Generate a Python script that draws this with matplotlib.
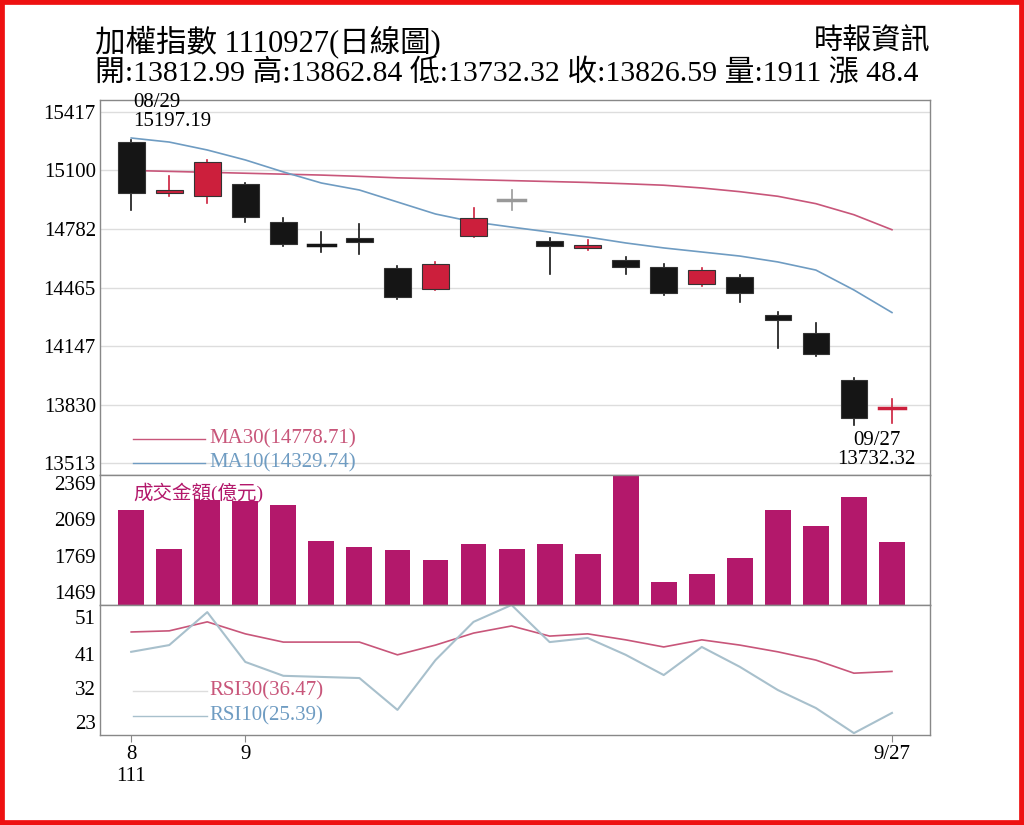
import matplotlib
matplotlib.use("Agg")
import matplotlib.pyplot as plt
from matplotlib.patches import Rectangle
import numpy as np

plt.rcParams['font.family'] = ['Liberation Serif', 'Noto Sans CJK TC', 'DejaVu Sans']

opens  = [15254,14978,14961,15027,14820,14696,14734,14571,14457,14745,14940,14717,14679,14614,14576,14484,14522,14316,14219,13964,13812.99]
closes = [14978,14994,15146,14848,14701,14690,14712,14414,14593,14842,14945,14690,14696,14576,14435,14560,14435,14289,14105,13760,13826.59]
highs  = [15265,15070,15157,15032,14842,14766,14810,14582,14604,14896,14994,14734,14723,14631,14593,14571,14533,14332,14273,13975,13862.84]
lows   = [14886,14961,14923,14820,14690,14658,14647,14403,14452,14740,14886,14538,14669,14538,14425,14473,14387,14137,14094,13720,13732.32]
ma30 = [15100,15095,15090,15085,15080,15075,15068,15060,15055,15050,15045,15040,15035,15028,15020,15005,14985,14960,14920,14860,14778.71]
ma10 = [15276,15254,15211,15157,15092,15032,14994,14929,14864,14821,14793,14766,14739,14707,14680,14658,14636,14604,14560,14452,14329.74]
volume = [2142,1822,2226,2220,2184,1890,1839,1814,1730,1864,1822,1864,1780,2428,1553,1620,1747,2142,2016,2251,1881]
rsi30 = [47.0,47.3,49.7,46.5,44.3,44.3,44.3,40.9,43.5,46.7,48.6,45.9,46.5,44.9,43.0,44.9,43.5,41.7,39.5,36.0,36.47]
rsi10 = [41.7,43.5,52.3,39.0,35.3,35.0,34.7,26.2,39.5,49.7,54.2,44.3,45.4,40.9,35.5,43.0,37.7,31.5,26.7,20.0,25.39]
price_ticks = [13513,13830,14147,14465,14782,15100,15417]
vol_ticks = [1469,1769,2069,2369]
rsi_ticks = [23,32,41,51]
xtick_pos = [0,3,20]
xtick_labels = ["8\n111","9","9/27"]

RED = '#cc1f3c'; BLK = '#151515'; MA30C = '#c8567a'; MA10C = '#6f9cc2'
VOLC = '#b3186b'; R10C = '#a8c0cc'

fig = plt.figure(figsize=(10.24, 8.25), dpi=100)
fig.patches.append(Rectangle((0, 0), 1, 1, transform=fig.transFigure, fill=False,
                             edgecolor='#ee1111', linewidth=7))
L, W = 100/1024, 830/1024
ax1 = fig.add_axes([L, 1-475/825, W, 375/825])
ax2 = fig.add_axes([L, 1-605/825, W, 130/825])
ax3 = fig.add_axes([L, 1-735/825, W, 130/825])
x = np.arange(len(opens))
for ax in (ax1, ax2, ax3):
    ax.set_xlim(-0.82, 21.0)
    for s in ax.spines.values():
        s.set_color('#888888'); s.set_linewidth(1)
    ax.tick_params(axis='y', labelsize=15, length=0, pad=3)
    ax.tick_params(axis='x', length=0)
    ax.set_xticks([])

# main
ax1.set_ylim(13449, 15482)
ax1.set_yticks(price_ticks)
for t in price_ticks:
    ax1.axhline(t, color='#dddddd', lw=1, zorder=0)
for i in x:
    o, c, h, l = opens[i], closes[i], highs[i], lows[i]
    col = RED if c > o else BLK
    if i in (10,):
        col = '#999999'
    ax1.plot([i, i], [l, h], color=col, lw=1.2, zorder=2)
    hgt = abs(c-o)
    if hgt < 15:
        ax1.plot([i-0.35, i+0.35], [o, o], color=col, lw=2.5, zorder=3)
    else:
        ax1.add_patch(Rectangle((i-0.35, min(o, c)), 0.7, hgt, facecolor=col,
                                edgecolor='#333333', lw=0.8, zorder=3))
ax1.plot(x, ma30, color=MA30C, lw=1.2, zorder=1)
ax1.plot(x, ma10, color=MA10C, lw=1.2, zorder=1)
ax1.text(0.05, 15520, "08/29\n15197.19", fontsize=15, va='top', ha='left',
         linespacing=1.0, clip_on=False)
ax1.text(19.6, 13690, "09/27\n13732.32", fontsize=15, va='top', ha='center',
         linespacing=1.0, clip_on=False, zorder=5)
ax1.plot([0.05, 1.95], [13645, 13645], color=MA30C, lw=1)
ax1.text(2.05, 13645, "MA30(14778.71)", color=MA30C, fontsize=15, va='center')
ax1.plot([0.05, 1.95], [13515, 13515], color=MA10C, lw=1)
ax1.text(2.05, 13515, "MA10(14329.74)", color=MA10C, fontsize=15, va='center')

# volume
ax2.set_ylim(1360, 2435)
ax2.set_yticks(vol_ticks)
ax2.bar(x, volume, width=0.68, color=VOLC, bottom=0)
ax2.text(0.05, 2290, "成交金額(億元)", color=VOLC, fontsize=14, va='center')

# rsi
ax3.set_ylim(19.5, 54.2)
ax3.set_yticks(rsi_ticks)
ax3.plot(x, rsi30, color=MA30C, lw=1.2)
ax3.plot(x, rsi10, color=R10C, lw=1.5)
ax3.plot([0.05, 2.0], [31.3, 31.3], color='#dddddd', lw=1)
ax3.text(2.05, 31.3, "RSI30(36.47)", color=MA30C, fontsize=15, va='center')
ax3.plot([0.05, 2.0], [24.6, 24.6], color=R10C, lw=1)
ax3.text(2.05, 24.6, "RSI10(25.39)", color=MA10C, fontsize=15, va='center')
ax3.set_xticks(xtick_pos)
ax3.set_xticklabels(xtick_labels, fontsize=15, linespacing=1.2)
ax3.tick_params(axis='x', length=5, color='#888888', pad=2)

fig.text(95/1024, 1-42/825, "加權指數 1110927(日線圖)", fontsize=22, va='center', ha='left')
fig.text(930/1024, 1-42/825, "時報資訊", fontsize=21, va='center', ha='right')
fig.text(95/1024, 1-73/825, "開:13812.99 高:13862.84 低:13732.32 收:13826.59 量:1911 漲 48.4",
         fontsize=21.5, va='center', ha='left')
fig.savefig("out.png", dpi=100)
